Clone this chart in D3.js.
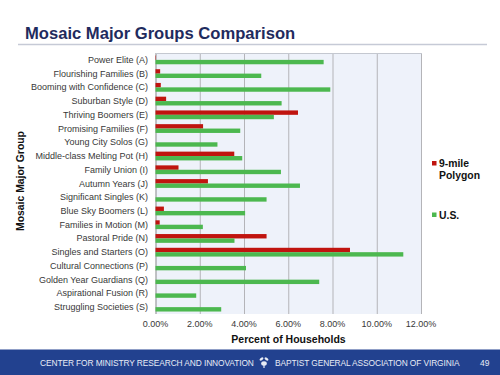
<!DOCTYPE html>
<meta charset="utf-8">
<head>
	<style>
		body { margin: 0; background: #fff; }
		text { font-family: "Liberation Sans", Arial, sans-serif; }
	</style>
	<script src="https://cdn.jsdelivr.net/npm/d3@7"></script>
</head>
<body></body>
<script>

	var groups = ["Power Elite (A)", "Flourishing Families (B)", "Booming with Confidence (C)", "Suburban Style (D)",
		"Thriving Boomers (E)", "Promising Families (F)", "Young City Solos (G)", "Middle-class Melting Pot (H)",
		"Family Union (I)", "Autumn Years (J)", "Significant Singles (K)", "Blue Sky Boomers (L)",
		"Families in Motion (M)", "Pastoral Pride (N)", "Singles and Starters (O)", "Cultural Connections (P)",
		"Golden Year Guardians (Q)", "Aspirational Fusion (R)", "Struggling Societies (S)"];

	// percent of households
	var polygon = [0.02, 0.21, 0.24, 0.48, 6.44, 2.15, 0, 3.56, 1.04, 2.37, 0, 0.38, 0.19, 5.02, 8.79, 0, 0, 0, 0];
	var us = [7.60, 4.78, 7.90, 5.70, 5.35, 3.83, 2.80, 3.92, 5.67, 6.53, 5.02, 4.05, 2.14, 3.57, 11.20, 4.09, 7.40, 1.84, 2.97];

	var seriesNames = ["9-mile Polygon", "U.S."];
	var xTicks = [0, 2, 4, 6, 8, 10, 12];

	var width = 500, height = 375;
	var plotLeft = 155.5, plotRight = 421, plotTop = 53, plotBottom = 314;

	var svg = d3.select("body").append("svg")
		.attr("width", width)
		.attr("height", height);

	// title
	svg.append("text")
		.attr("x", 25).attr("y", 39)
		.style("font-size", "16.6px").style("font-weight", "bold").style("fill", "#1f2b5e")
		.text("Mosaic Major Groups Comparison");
	svg.append("line")
		.attr("x1", 18).attr("x2", 487).attr("y1", 44.5).attr("y2", 44.5)
		.style("stroke", "#c6cad6").style("stroke-width", 1.5);

	var x = d3.scaleLinear().domain([0, 12]).range([plotLeft, plotRight]);
	var y = d3.scaleBand().domain(groups).range([plotTop, plotBottom]).paddingInner(0.36).paddingOuter(0.18);

	// plot area
	svg.append("rect")
		.attr("x", plotLeft).attr("y", plotTop).attr("width", plotRight - plotLeft).attr("height", plotBottom - plotTop)
		.style("fill", "#eef2fa");

	svg.append("g").selectAll("line")
		.data(xTicks)
	  .enter().append("line")
		.attr("x1", function(d) { return x(d) + 0.5; })
		.attr("x2", function(d) { return x(d) + 0.5; })
		.attr("y1", plotTop).attr("y2", plotBottom)
		.style("stroke", function(d) { return d == 0 ? "#8c8c8c" : "#b4b4b8"; })
		.style("stroke-width", 1);

	svg.append("line")
		.attr("x1", plotLeft).attr("x2", plotRight + 1).attr("y1", plotTop + 0.5).attr("y2", plotTop + 0.5)
		.style("stroke", "#c4c8d0");

	var half = y.bandwidth() / 2;

	svg.append("g").selectAll("rect")
		.data(groups)
	  .enter().append("rect")
		.attr("x", x(0))
		.attr("y", function(d) { return y(d); })
		.attr("width", function(d, i) { return x(polygon[i]) - x(0); })
		.attr("height", half)
		.style("fill", "#c0140f");

	svg.append("g").selectAll("rect")
		.data(groups)
	  .enter().append("rect")
		.attr("x", x(0))
		.attr("y", function(d) { return y(d) + half; })
		.attr("width", function(d, i) { return x(us[i]) - x(0); })
		.attr("height", half)
		.style("fill", "#4cb84f");

	// category labels
	svg.append("g").selectAll("text")
		.data(groups)
	  .enter().append("text")
		.attr("x", 148)
		.attr("y", function(d) { return y(d) + y.bandwidth() / 2 + 3; })
		.attr("text-anchor", "end")
		.style("font-size", "9px").style("fill", "#383838")
		.text(function(d) { return d; });

	// x tick labels
	svg.append("g").selectAll("text")
		.data(xTicks)
	  .enter().append("text")
		.attr("x", function(d) { return x(d); })
		.attr("y", 327)
		.attr("text-anchor", "middle")
		.style("font-size", "9px").style("fill", "#383838")
		.text(function(d) { return d.toFixed(2) + "%"; });

	svg.append("text")
		.attr("x", 288.5).attr("y", 342.5)
		.attr("text-anchor", "middle")
		.style("font-size", "10.5px").style("font-weight", "bold").style("fill", "#111")
		.text("Percent of Households");

	svg.append("text")
		.attr("transform", "translate(23.5,181)rotate(-90)")
		.attr("text-anchor", "middle")
		.style("font-size", "10.4px").style("font-weight", "bold").style("fill", "#111")
		.text("Mosaic Major Group");

	// legend
	var legend = svg.append("g");
	legend.append("rect").attr("x", 432).attr("y", 161).attr("width", 4.5).attr("height", 4.5).style("fill", "#c0140f");
	legend.append("text").attr("x", 439).attr("y", 167)
		.style("font-size", "10.4px").style("font-weight", "bold").style("fill", "#111")
		.text(seriesNames[0].split(" ")[0]);
	legend.append("text").attr("x", 439).attr("y", 178.5)
		.style("font-size", "10.4px").style("font-weight", "bold").style("fill", "#111")
		.text(seriesNames[0].split(" ")[1]);
	legend.append("rect").attr("x", 432).attr("y", 212.5).attr("width", 4.5).attr("height", 4.5).style("fill", "#4cb84f");
	legend.append("text").attr("x", 439).attr("y", 218.5)
		.style("font-size", "10.4px").style("font-weight", "bold").style("fill", "#111")
		.text(seriesNames[1]);

	// footer band
	svg.append("rect")
		.attr("x", 0).attr("y", 349.5).attr("width", width).attr("height", height - 349.5)
		.style("fill", "#22418f");
	svg.append("text")
		.attr("x", 40).attr("y", 366)
		.style("font-size", "8.4px").style("fill", "#e8ecf6").style("letter-spacing", "-0.1px")
		.text("CENTER FOR MINISTRY  RESEARCH AND INNOVATION");
	svg.append("text")
		.attr("x", 275).attr("y", 366)
		.style("font-size", "8.4px").style("fill", "#e8ecf6").style("letter-spacing", "-0.1px")
		.text("BAPTIST GENERAL ASSOCIATION  OF VIRGINIA");
	svg.append("text")
		.attr("x", 480).attr("y", 366)
		.style("font-size", "8.4px").style("fill", "#e8ecf6")
		.text("49");

	// small leaf mark between the footer texts
	var mark = svg.append("g").attr("transform", "translate(264,362)").style("fill", "#e8ecf6");
	mark.append("ellipse").attr("cx", -2.5).attr("cy", -3).attr("rx", 2.2).attr("ry", 1.3).attr("transform", "rotate(-35,-2.5,-3)");
	mark.append("ellipse").attr("cx", 2.5).attr("cy", -3).attr("rx", 2.2).attr("ry", 1.3).attr("transform", "rotate(35,2.5,-3)");
	mark.append("ellipse").attr("cx", 0).attr("cy", 1.5).attr("rx", 2.8).attr("ry", 2.2);
	mark.append("rect").attr("x", -0.6).attr("y", 3).attr("width", 1.2).attr("height", 3);

</script>
